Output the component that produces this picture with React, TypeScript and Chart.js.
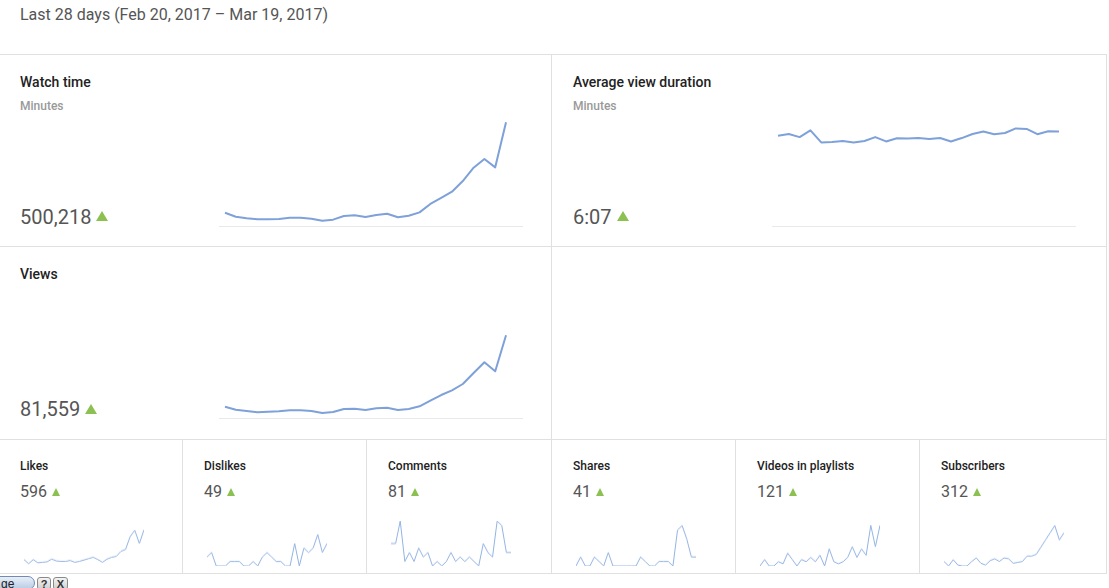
import React, { useEffect, useRef } from "react";
import { Chart, registerables } from "chart.js";

Chart.register(...registerables);

// ---------- data ----------
const dayLabels = [
  "Feb 20", "Feb 21", "Feb 22", "Feb 23", "Feb 24", "Feb 25", "Feb 26", "Feb 27", "Feb 28",
  "Mar 1", "Mar 2", "Mar 3", "Mar 4", "Mar 5", "Mar 6", "Mar 7", "Mar 8", "Mar 9", "Mar 10",
  "Mar 11", "Mar 12", "Mar 13", "Mar 14", "Mar 15", "Mar 16", "Mar 17", "Mar 18",
];

const watchTimeMinutes = [
  11300, 7900, 6500, 5700, 5700, 5900, 7000, 7000, 6200, 4500, 5400, 8500, 9100, 7600,
  9300, 10400, 7400, 8700, 11600, 18700, 23800, 29100, 38200, 49500, 56900, 49800, 88000,
];
const avgViewDurationSec = [
  375, 382, 369, 397, 347, 349, 353, 347, 353, 369, 351, 364, 363, 365, 361, 365, 351, 365,
  382, 392, 381, 386, 405, 403, 381, 393, 392,
];
const views = [
  1900, 1390, 1180, 960, 1060, 1120, 1290, 1290, 1180, 840, 1010, 1510, 1560, 1340, 1630,
  1730, 1340, 1510, 1960, 2900, 3860, 4650, 5710, 7560, 9350, 7840, 13890,
];
const likes = [14, 5, 14, 7, 8, 9, 15, 11, 10, 10, 12, 8, 10, 13, 16, 19, 14, 8, 15, 19, 21, 32, 36, 64, 78, 49, 79];
const dislikes = [2, 3, 0, 0, 0, 1, 1, 1, 0, 0, 1, 0, 2, 3, 2, 1, 1, 0, 0, 5, 0, 4, 3, 4, 7, 3, 5];
const comments = [5, 5, 10, 1, 3, 1, 4, 2, 3, 0, 1, 0, 1, 3, 1, 2, 1, 2, 1, 0, 5, 3, 2, 10, 9, 3, 3];
const shares = [0, 2, 0, 0, 2, 1, 0, 3, 0, 0, 0, 0, 0, 0, 2, 1, 0, 0, 1, 1, 1, 0, 8, 9, 6, 2, 2];
const playlistAdds = [0, 3, 0, 0, 2, 1, 6, 3, 0, 3, 2, 4, 2, 5, 0, 8, 2, 1, 2, 4, 9, 4, 8, 5, 19, 9, 19];
const subscribers = [5, 0, 7, 1, 0, 0, 5, 9, 3, 1, 6, 8, 5, 9, 8, 3, 4, 5, 11, 11, 13, 21, 29, 37, 45, 29, 37];

const headerText = "Last 28 days (Feb 20, 2017 – Mar 19, 2017)";
const bigTitles = ["Watch time", "Average view duration", "Views"];
const bigTotals = ["500,218", "6:07", "81,559"];
const smallTitles = ["Likes", "Dislikes", "Comments", "Shares", "Videos in playlists", "Subscribers"];
const smallTotals = ["596", "49", "81", "41", "121", "312"];

// ---------- chart component ----------
const BIG_COLOR = "#7ea1d9";
const SMALL_COLOR = "#93b3e4";
const GREEN = "#8cc152";
const BORDER = "#e0e0e0";

const baselinePlugin = {
  id: "baseline",
  beforeDatasetsDraw(chart: any) {
    const { ctx, chartArea } = chart;
    ctx.save();
    ctx.strokeStyle = "#e9e9e9";
    ctx.lineWidth = 1;
    ctx.beginPath();
    ctx.moveTo(chartArea.left, Math.round(chartArea.bottom) + 0.5);
    ctx.lineTo(chartArea.right, Math.round(chartArea.bottom) + 0.5);
    ctx.stroke();
    ctx.restore();
  },
};

type SparkProps = {
  values: number[];
  yMax: number;
  left: number;
  top: number;
  width: number;
  height: number;
  xMin: number;
  xMax: number;
  color: string;
  lineWidth: number;
  baseline?: boolean;
};

const PAD = 4;

function Spark(p: SparkProps) {
  const ref = useRef<HTMLCanvasElement>(null);
  useEffect(() => {
    const chart = new Chart(ref.current as HTMLCanvasElement, {
      type: "line",
      data: {
        labels: dayLabels,
        datasets: [
          {
            data: p.values.map((v, i) => ({ x: i, y: v })),
            borderColor: p.color,
            borderWidth: p.lineWidth,
            pointRadius: 0,
            tension: 0,
            fill: false,
            borderJoinStyle: "round",
          } as any,
        ],
      },
      options: {
        animation: false,
        responsive: false,
        maintainAspectRatio: false,
        events: [],
        layout: { padding: PAD },
        plugins: { legend: { display: false }, tooltip: { enabled: false } },
        scales: {
          x: { type: "linear", display: false, min: p.xMin, max: p.xMax },
          y: { type: "linear", display: false, min: 0, max: p.yMax },
        },
      },
      plugins: p.baseline ? [baselinePlugin] : [],
    });
    return () => chart.destroy();
  }, []);
  const w = p.width + 2 * PAD;
  const h = p.height + 2 * PAD;
  return (
    <canvas
      ref={ref}
      width={w}
      height={h}
      style={{ position: "absolute", left: p.left - PAD, top: p.top - PAD, width: w, height: h }}
    />
  );
}

// ---------- small helpers ----------
function HLine({ top, left, width }: { top: number; left: number; width: number }) {
  return <div style={{ position: "absolute", top, left, width, height: 1, background: BORDER }} />;
}
function VLine({ top, left, height }: { top: number; left: number; height: number }) {
  return <div style={{ position: "absolute", top, left, width: 1, height, background: BORDER }} />;
}
function Tri({ left, top, w, h }: { left: number; top: number; w: number; h: number }) {
  return (
    <div
      style={{
        position: "absolute",
        left,
        top,
        width: 0,
        height: 0,
        borderLeft: `${w / 2}px solid transparent`,
        borderRight: `${w / 2}px solid transparent`,
        borderBottom: `${h}px solid ${GREEN}`,
      }}
    />
  );
}
function Txt({
  left, top, size, color, weight, children,
}: { left: number; top: number; size: number; color: string; weight: number; children: React.ReactNode }) {
  return (
    <div
      style={{
        position: "absolute",
        left,
        top,
        fontSize: size,
        lineHeight: `${Math.round(size * 1.2)}px`,
        color,
        fontWeight: weight,
        whiteSpace: "nowrap",
      }}
    >
      {children}
    </div>
  );
}

// big chart geometry
const BIG_X_MIN = -0.555;
const BIG_X_MAX = 27.57;

const smallSeries = [likes, dislikes, comments, shares, playlistAdds, subscribers];
const smallYMax = [98, 10, 10, 10, 21, 50];
const smallPanelLeft = [0, 183, 367, 552, 736, 920];
const smallTriLeft = [52, 227, 411, 596, 789, 973];

export default function App() {
  return (
    <div
      style={{
        position: "absolute",
        left: 0,
        top: 0,
        width: 1109,
        height: 588,
        background: "#fff",
        overflow: "hidden",
        fontFamily: "Roboto, 'Noto Sans', Arial, sans-serif",
      }}
    >
      <Txt left={20} top={5} size={16} color="#555" weight={400}>{headerText}</Txt>

      {/* grid lines */}
      <HLine top={54} left={0} width={1107} />
      <HLine top={246} left={0} width={1107} />
      <HLine top={439} left={0} width={1107} />
      <HLine top={573} left={0} width={1107} />
      <VLine top={54} left={551} height={520} />
      <VLine top={54} left={1106} height={520} />
      <VLine top={439} left={182} height={134} />
      <VLine top={439} left={366} height={134} />
      <VLine top={439} left={735} height={134} />
      <VLine top={439} left={919} height={134} />

      {/* Watch time */}
      <Txt left={20} top={74} size={14} color="#222" weight={500}>{bigTitles[0]}</Txt>
      <Txt left={20} top={99} size={12} color="#999" weight={500}>Minutes</Txt>
      <Txt left={20} top={205} size={20} color="#555" weight={400}>{bigTotals[0]}</Txt>
      <Tri left={96} top={211} w={12} h={10} />
      <Spark values={watchTimeMinutes} yMax={90000} left={219} top={120} width={304} height={106}
        xMin={BIG_X_MIN} xMax={BIG_X_MAX} color={BIG_COLOR} lineWidth={2} baseline />

      {/* Average view duration */}
      <Txt left={573} top={74} size={14} color="#222" weight={500}>{bigTitles[1]}</Txt>
      <Txt left={573} top={99} size={12} color="#999" weight={500}>Minutes</Txt>
      <Txt left={573} top={205} size={20} color="#555" weight={400}>{bigTotals[1]}</Txt>
      <Tri left={617} top={211} w={12} h={10} />
      <Spark values={avgViewDurationSec} yMax={440} left={772} top={120} width={304} height={106}
        xMin={BIG_X_MIN} xMax={BIG_X_MAX} color={BIG_COLOR} lineWidth={2} baseline />

      {/* Views */}
      <Txt left={20} top={266} size={14} color="#222" weight={500}>{bigTitles[2]}</Txt>
      <Txt left={20} top={397} size={20} color="#555" weight={400}>{bigTotals[2]}</Txt>
      <Tri left={85} top={404} w={12} h={10} />
      <Spark values={views} yMax={17800} left={219} top={312} width={304} height={106}
        xMin={BIG_X_MIN} xMax={BIG_X_MAX} color={BIG_COLOR} lineWidth={2} baseline />

      {/* small metrics */}
      {smallTitles.map((t, i) => (
        <React.Fragment key={t}>
          <Txt left={smallPanelLeft[i] + 20 + (i > 0 ? 1 : 0)} top={459} size={12} color="#222" weight={500}>{t}</Txt>
          <Txt left={smallPanelLeft[i] + 20 + (i > 0 ? 1 : 0)} top={482} size={16} color="#555" weight={400}>{smallTotals[i]}</Txt>
          <Tri left={smallTriLeft[i]} top={488} w={8} h={8} />
          <Spark values={smallSeries[i]} yMax={smallYMax[i]} left={smallPanelLeft[i] + 23.5} top={521}
            width={120} height={44.5} xMin={0} xMax={26} color={SMALL_COLOR} lineWidth={1} />
        </React.Fragment>
      ))}

      {/* overlay toolbar fragment at bottom-left */}
      <div style={{
        position: "absolute", left: -8, top: 576, width: 43, height: 14,
        borderRadius: "0 7px 7px 0", border: "1px solid #6f8bb6",
        background: "linear-gradient(#e9eff8, #b9cbe6)", fontSize: 12, lineHeight: "14px",
        fontFamily: "Arial, sans-serif", color: "#222", paddingLeft: 8, boxSizing: "border-box",
      }}>ge</div>
      <div style={{
        position: "absolute", left: 37, top: 577, width: 14, height: 13, border: "1px solid #8a8a8a",
        borderRadius: 3, background: "linear-gradient(#f4f4f4, #cfcfcf)", fontSize: 11, lineHeight: "12px",
        textAlign: "center", fontFamily: "Arial, sans-serif", fontWeight: 700, color: "#333", boxSizing: "border-box",
      }}>?</div>
      <div style={{
        position: "absolute", left: 53, top: 577, width: 15, height: 13, border: "1px solid #8a8a8a",
        borderRadius: 3, background: "linear-gradient(#f4f4f4, #cfcfcf)", fontSize: 11, lineHeight: "12px",
        textAlign: "center", fontFamily: "Arial, sans-serif", fontWeight: 700, color: "#333", boxSizing: "border-box",
      }}>X</div>
    </div>
  );
}
